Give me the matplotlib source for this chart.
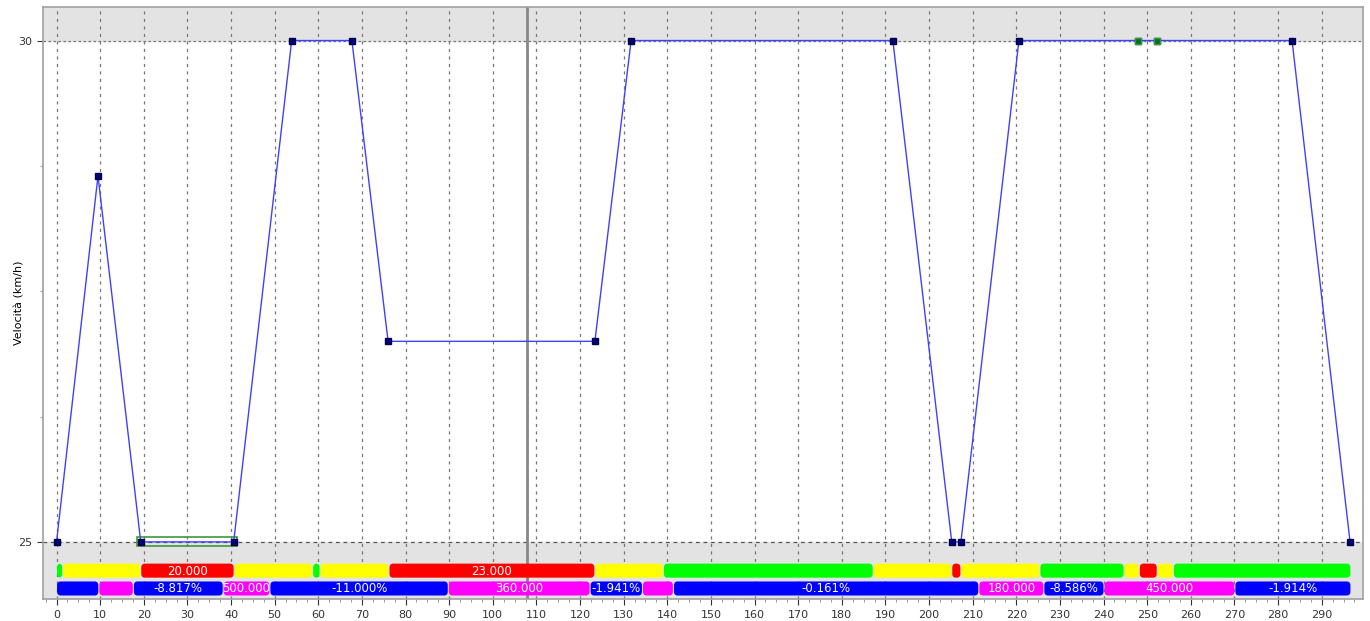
import numpy as np
import matplotlib.pyplot as plt
from matplotlib.patches import FancyBboxPatch, Rectangle
from matplotlib.ticker import MultipleLocator

# speed profile (distance, km/h)
dist = [0, 9.5, 19.3, 40.6, 53.9, 67.7, 76.0, 123.4, 131.7, 191.7,
        205.2, 207.3, 220.6, 247.9, 252.3, 283.2, 296.5]
speed = [25, 28.65, 25, 25, 30, 30, 27.0, 27.0, 30, 30,
         25, 25, 30, 30, 30, 30, 25]
green_pts = [13, 14]
cursor_x = 107.8

# upper track band: (start, end, color, label)
band1_start = [0, 1.4, 19.3, 40.7, 58.7, 60.4, 76.2, 123.4, 139.1, 187.2,
               205.2, 207.3, 225.4, 244.7, 248.2, 252.3, 256.0]
band1_end = band1_start[1:] + [296.7]
band1_col = ['g', 'y', 'r', 'y', 'g', 'y', 'r', 'y', 'g', 'y',
             'r', 'y', 'g', 'y', 'r', 'y', 'g']
band1_txt = ['', '', '20.000', '', '', '', '23.000', '', '', '',
             '', '', '', '', '', '', '']

# lower band: gradients and curve radii
band2_start = [0, 9.7, 17.6, 38.2, 48.9, 89.8, 122.3, 134.3, 141.4,
               211.4, 226.3, 240.1, 270.1]
band2_end = band2_start[1:] + [296.7]
band2_col = ['b', 'm', 'b', 'm', 'b', 'm', 'b', 'm', 'b', 'm', 'b', 'm', 'b']
band2_txt = ['', '', '-8.817%', '500.000', '-11.000%', '360.000', '-1.941%',
             '', '-0.161%', '180.000', '-8.586%', '450.000', '-1.914%']

colors = {'g': '#00ff00', 'y': '#ffff00', 'r': '#ff0000',
          'b': '#0000ff', 'm': '#ff00ff'}

fig = plt.figure(figsize=(13.7, 6.21), dpi=100)
ax = fig.add_axes([0.0314, 0.0354, 0.9636, 0.9526])

x_lo, x_hi = -3.1, 299.5
y_lo, y_hi = 24.43, 30.33
ax.set_xlim(x_lo, x_hi)
ax.set_ylim(y_lo, y_hi)

# shaded zones outside the speed range
ax.axhspan(30, y_hi, color='#e3e3e3', zorder=0)
ax.axhspan(y_lo, 25, color='#e3e3e3', zorder=0)

ax.xaxis.set_major_locator(MultipleLocator(10))
ax.xaxis.set_minor_locator(MultipleLocator(2.5))
ax.set_yticks([25, 30])
ax.yaxis.set_minor_locator(MultipleLocator(1.25))
ax.tick_params(labelsize=8, colors='#333333', length=4)
ax.tick_params(which='minor', length=2, color='#888888')
ax.tick_params(axis='x', pad=4)
ax.set_xticklabels([str(int(v)) for v in ax.get_xticks()])

for v in np.arange(0, 300, 10):
    ax.axvline(v, color='#777777', lw=0.9, ls=(0, (2.5, 3.5)), zorder=1)
ax.axhline(30, color='#777777', lw=0.9, ls=(0, (2, 2)), zorder=1)
ax.axhline(25, color='#555555', lw=0.9, ls=(0, (3, 3)), zorder=1)

for s in ax.spines.values():
    s.set_color('#a0a0a0')
    s.set_linewidth(1.2)

ax.set_ylabel('Velocità (km/h)', fontsize=8)
ax.yaxis.set_label_coords(-0.014, 0.5)

# selection box on the first low-speed stretch
ax.add_patch(Rectangle((18.5, 24.955), 22.9, 0.09, fill=False,
                       ec='#3a9a3a', lw=1.2, zorder=3))

ax.axvline(cursor_x, color='#888888', lw=2, zorder=2)

ax.plot(dist, speed, color='#4040ff', lw=1.0, zorder=4)
ax.plot(dist, speed, ls='none', marker='s', ms=4, mfc='#000080',
        mec='#000040', zorder=5)
ax.plot([dist[i] for i in green_pts], [speed[i] for i in green_pts],
        ls='none', marker='s', ms=4, mfc='#0a6a20', mec='#30a040', zorder=6)


def draw_band(starts, ends, cols, texts, yc, h):
    for x0, x1, c, t in zip(starts, ends, cols, texts):
        pad = 0.12
        ax.add_patch(FancyBboxPatch((x0 + pad, yc - h / 2), x1 - x0 - 2 * pad, h,
                                    boxstyle='round,pad=0,rounding_size=0.8',
                                    mutation_aspect=0.05,
                                    fc=colors[c], ec='none', zorder=3))
        if t:
            ax.text((x0 + x1) / 2, yc - 0.005, t, color='white', fontsize=8.5,
                    ha='center', va='center', zorder=4)


draw_band(band1_start, band1_end, band1_col, band1_txt, 24.713, 0.14)
draw_band(band2_start, band2_end, band2_col, band2_txt, 24.535, 0.14)

fig.savefig('out.png', dpi=100)
